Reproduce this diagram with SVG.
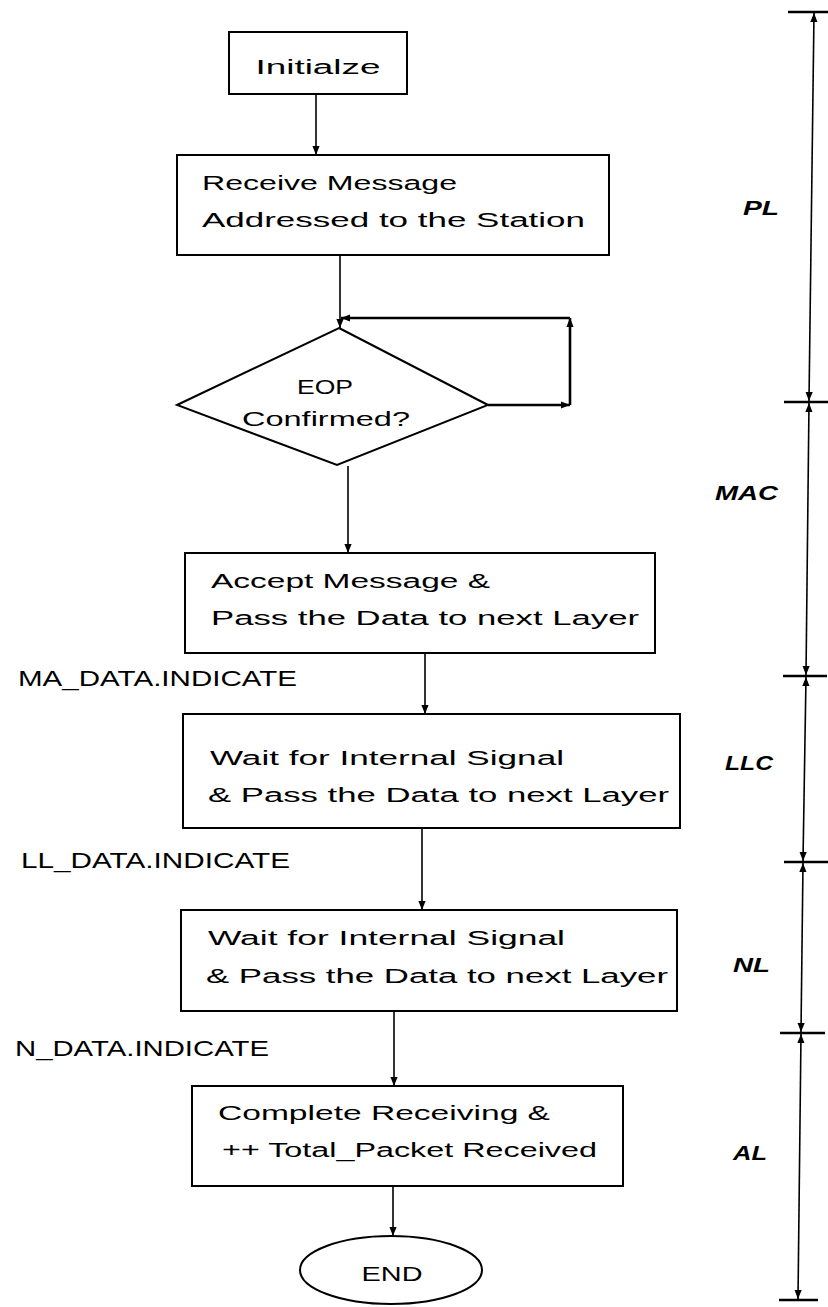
<svg xmlns="http://www.w3.org/2000/svg" width="828" height="1307" viewBox="0 0 828 1307">
<style>
.box{fill:#fff;stroke:#000;stroke-width:2}
.ln{fill:none;stroke:#000;stroke-width:1.6}
.lnb{fill:none;stroke:#000;stroke-width:2.6}
.t{font-family:"Liberation Sans",Arial,sans-serif;font-size:20px;fill:#000}
.c{text-anchor:middle}
.sig{font-family:"Liberation Sans",Arial,sans-serif;font-size:22px;fill:#000}
.lbl{font-family:"Liberation Sans",Arial,sans-serif;font-size:21px;font-weight:bold;font-style:italic;fill:#000}
.tick{stroke:#000;stroke-width:2.4}
</style>
<defs>
<marker id="ah" viewBox="0 0 10 10" refX="10" refY="5" markerWidth="9" markerHeight="9" markerUnits="userSpaceOnUse" orient="auto-start-reverse"><path d="M0,1 L10,5 L0,9 z" fill="#000"/></marker>
</defs>
<rect width="828" height="1307" fill="#fff"/>

<g id="connectors">
<line class="ln" x1="316" y1="94" x2="316" y2="155" marker-end="url(#ah)"/>
<line class="ln" x1="340" y1="255" x2="340" y2="328" marker-end="url(#ah)"/>
<line class="lnb" x1="488" y1="405" x2="570" y2="405" marker-end="url(#ah)"/>
<line class="lnb" x1="570" y1="405" x2="570" y2="318" marker-end="url(#ah)"/>
<line class="lnb" x1="570" y1="318" x2="341" y2="318" marker-end="url(#ah)"/>
<line class="ln" x1="348" y1="466" x2="348" y2="553" marker-end="url(#ah)"/>
<line class="ln" x1="425" y1="653" x2="425" y2="714" marker-end="url(#ah)"/>
<line class="ln" x1="422" y1="828" x2="422" y2="910" marker-end="url(#ah)"/>
<line class="ln" x1="394" y1="1011" x2="394" y2="1086" marker-end="url(#ah)"/>
<line class="ln" x1="393" y1="1186" x2="393" y2="1236" marker-end="url(#ah)"/>
</g>

<g id="initialize">
<rect class="box" x="229" y="32" width="178" height="62"/>
<text class="t c" x="318" y="74" textLength="125" lengthAdjust="spacingAndGlyphs">Initialze</text>
</g>

<g id="receive">
<rect class="box" x="177" y="155" width="432" height="100"/>
<text class="t" x="202" y="190" textLength="255" lengthAdjust="spacingAndGlyphs">Receive Message</text>
<text class="t" x="202" y="227" textLength="383" lengthAdjust="spacingAndGlyphs">Addressed to the Station</text>
</g>

<g id="eop">
<polygon class="box" points="339,328 488,405 337,465 177,405"/>
<text class="t c" x="325" y="394" textLength="56" lengthAdjust="spacingAndGlyphs">EOP</text>
<text class="t c" x="326" y="426" textLength="168" lengthAdjust="spacingAndGlyphs">Confirmed?</text>
</g>

<g id="accept">
<rect class="box" x="185" y="553" width="470" height="100"/>
<text class="t" x="211" y="588" textLength="279" lengthAdjust="spacingAndGlyphs">Accept Message &amp;</text>
<text class="t" x="211" y="625" textLength="428" lengthAdjust="spacingAndGlyphs">Pass the Data to next Layer</text>
</g>

<g id="ma_data">
<text class="sig" x="18" y="686" textLength="279" lengthAdjust="spacingAndGlyphs">MA_DATA.INDICATE</text>
</g>

<g id="wait1">
<rect class="box" x="183" y="714" width="497" height="114"/>
<text class="t" x="210" y="765" textLength="354" lengthAdjust="spacingAndGlyphs">Wait for Internal Signal</text>
<text class="t" x="208" y="802" textLength="461" lengthAdjust="spacingAndGlyphs">&amp; Pass the Data to next Layer</text>
</g>

<g id="ll_data">
<text class="sig" x="21" y="868" textLength="269" lengthAdjust="spacingAndGlyphs">LL_DATA.INDICATE</text>
</g>

<g id="wait2">
<rect class="box" x="181" y="910" width="496" height="101"/>
<text class="t" x="208" y="945" textLength="357" lengthAdjust="spacingAndGlyphs">Wait for Internal Signal</text>
<text class="t" x="206" y="983" textLength="462" lengthAdjust="spacingAndGlyphs">&amp; Pass the Data to next Layer</text>
</g>

<g id="n_data">
<text class="sig" x="15" y="1056" textLength="254" lengthAdjust="spacingAndGlyphs">N_DATA.INDICATE</text>
</g>

<g id="complete">
<rect class="box" x="192" y="1086" width="431" height="100"/>
<text class="t" x="218" y="1120" textLength="332" lengthAdjust="spacingAndGlyphs">Complete Receiving &amp;</text>
<text class="t" x="222" y="1157" textLength="375" lengthAdjust="spacingAndGlyphs">++ Total_Packet Received</text>
</g>

<g id="end">
<ellipse class="box" cx="391" cy="1270" rx="91" ry="34"/>
<text class="t c" x="392" y="1281" textLength="61" lengthAdjust="spacingAndGlyphs">END</text>
</g>

<g id="layer-scale">
<line class="tick" x1="788" y1="12" x2="828" y2="12"/>
<line class="tick" x1="784" y1="402" x2="828" y2="402"/>
<line class="tick" x1="783" y1="676" x2="827" y2="676"/>
<line class="tick" x1="784" y1="862" x2="828" y2="862"/>
<line class="tick" x1="780" y1="1033" x2="825" y2="1033"/>
<line class="tick" x1="779" y1="1300" x2="818" y2="1300"/>
<line class="ln" x1="814" y1="13" x2="809" y2="401" marker-start="url(#ah)" marker-end="url(#ah)"/>
<line class="ln" x1="809" y1="403" x2="806" y2="675" marker-start="url(#ah)" marker-end="url(#ah)"/>
<line class="ln" x1="806" y1="677" x2="803" y2="861" marker-start="url(#ah)" marker-end="url(#ah)"/>
<line class="ln" x1="803" y1="863" x2="801" y2="1032" marker-start="url(#ah)" marker-end="url(#ah)"/>
<line class="ln" x1="801" y1="1034" x2="798" y2="1299" marker-start="url(#ah)" marker-end="url(#ah)"/>
<text class="lbl" x="743" y="215" textLength="36" lengthAdjust="spacingAndGlyphs">PL</text>
<text class="lbl" x="715" y="500" textLength="63" lengthAdjust="spacingAndGlyphs">MAC</text>
<text class="lbl" x="725" y="770" textLength="48" lengthAdjust="spacingAndGlyphs">LLC</text>
<text class="lbl" x="733" y="972" textLength="37" lengthAdjust="spacingAndGlyphs">NL</text>
<text class="lbl" x="733" y="1160" textLength="34" lengthAdjust="spacingAndGlyphs">AL</text>
</g>
</svg>
